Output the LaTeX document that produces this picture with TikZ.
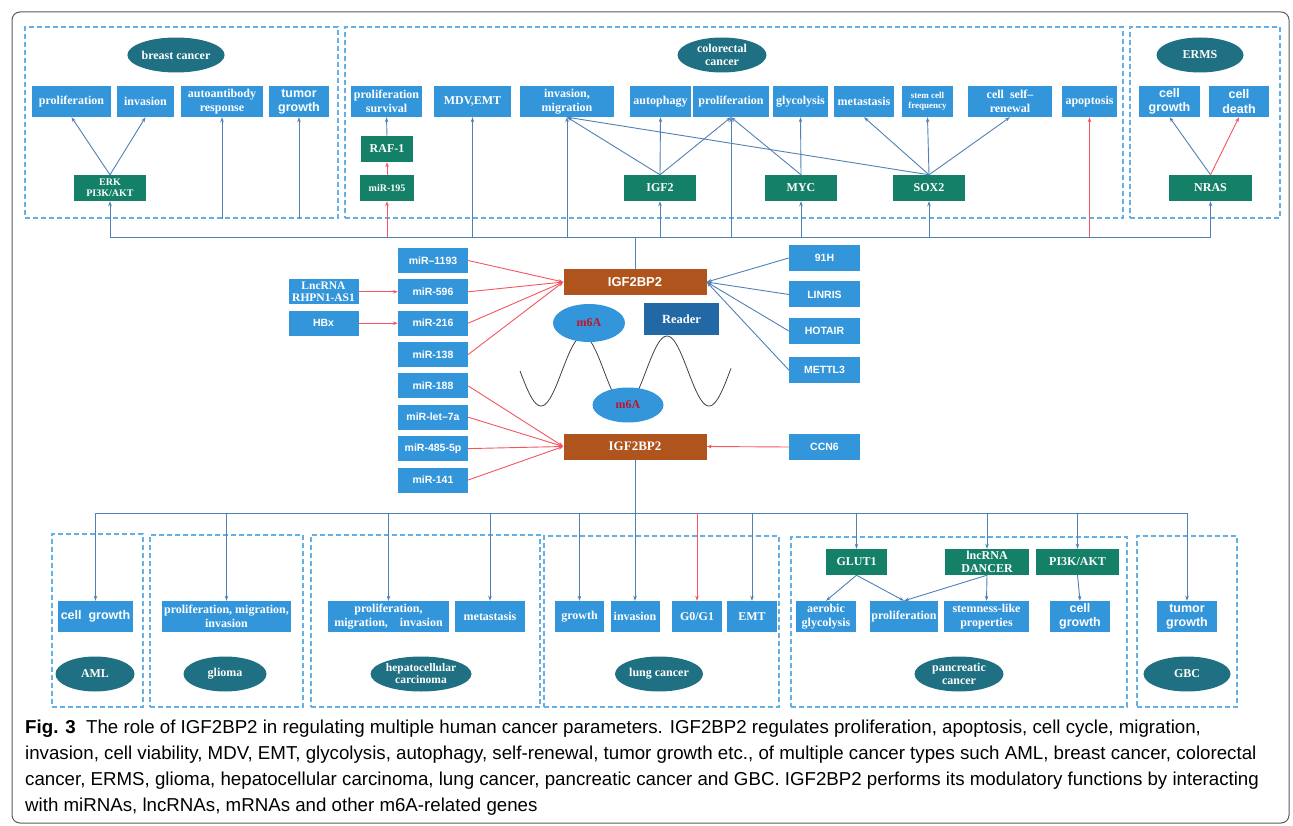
\documentclass[tikz,border=0pt]{standalone}
\usepackage{fontspec}
\setmainfont{Liberation Serif}
\setsansfont{Liberation Sans}
\usetikzlibrary{shapes.geometric,arrows.meta}

\definecolor{effblue}{RGB}{52,150,218}
\definecolor{genegreen}{RGB}{20,128,104}
\definecolor{cancerteal}{RGB}{30,112,130}
\definecolor{bpbrown}{RGB}{176,84,30}
\definecolor{readerblue}{RGB}{34,104,165}
\definecolor{dashblue}{RGB}{100,175,228}
\definecolor{linkblue}{RGB}{80,128,180}
\definecolor{linkred}{RGB}{245,85,95}
\definecolor{m6ared}{RGB}{190,20,45}
\definecolor{framegray}{RGB}{90,90,90}

\tikzset{
  region/.style={draw=dashblue, line width=1.2pt, dash pattern=on 5pt off 3pt, inner sep=0pt},
  cancer/.style={ellipse, fill=cancerteal, text=white, inner sep=0pt, align=center, font=\rmfamily\bfseries\fontsize{12}{13}\selectfont},
  effect/.style={rectangle, fill=effblue, text=white, inner sep=0.5pt, minimum height=31, align=center, font=\rmfamily\bfseries\fontsize{12}{14}\selectfont},
  sanslab/.style={font=\sffamily\bfseries\fontsize{12.5}{14.5}\selectfont},
  gene/.style={rectangle, fill=genegreen, text=white, inner sep=0.5pt, minimum height=26, align=center, font=\rmfamily\bfseries\fontsize{12}{12.5}\selectfont},
  mirna/.style={rectangle, fill=effblue, text=white, inner sep=0.5pt, minimum width=70, minimum height=25, align=center, font=\sffamily\bfseries\fontsize{10.5}{12}\selectfont},
  bp2/.style={rectangle, fill=bpbrown, text=white, minimum width=143, minimum height=26, font=\bfseries\fontsize{13}{14}\selectfont},
  m6a/.style={ellipse, fill=effblue, text=m6ared, inner sep=0pt, minimum width=72, minimum height=37, font=\rmfamily\bfseries\fontsize{12}{13}\selectfont},
  link/.style={draw=linkblue, line width=0.9pt},
  redlink/.style={draw=linkred, line width=0.9pt},
}

\begin{document}
\begin{tikzpicture}[x=1pt,y=-1pt,>={Stealth[length=5pt,width=3.5pt]}]
\useasboundingbox (0,0) rectangle (1293,826);
\draw[framegray, line width=1pt, rounded corners=8pt] (12,12) rectangle (1289,823);

% cancer regions
\node[region, minimum width=313, minimum height=191] (breastreg) at (181.5,122.5) {};
\node[region, minimum width=778, minimum height=191] (colonreg) at (734,122.5) {};
\node[region, minimum width=150, minimum height=191] (ermsreg) at (1205,122.5) {};
\node[region, minimum width=91, minimum height=173] (amlreg) at (97.5,620.5) {};
\node[region, minimum width=153, minimum height=172] (glioreg) at (226.5,621) {};
\node[region, minimum width=229, minimum height=172] (hepreg) at (425.5,621) {};
\node[region, minimum width=235, minimum height=171] (lungreg) at (661.5,621.5) {};
\node[region, minimum width=336, minimum height=170] (pancreg) at (959,622) {};
\node[region, minimum width=100, minimum height=171] (gbcreg) at (1187,621.5) {};

% breast cancer
\node[cancer, minimum width=88, minimum height=35] (breast) at (176,55) {breast cancer};
\node[effect, minimum width=79] (bprol) at (71.5,101.5) {proliferation};
\node[effect, minimum width=57] (binv) at (145.5,101.5) {invasion};
\node[effect, minimum width=82] (bauto) at (222,101.5) {autoantibody\\response};
\node[effect, sanslab, minimum width=60] (btumor) at (299,101.5) {tumor\\growth};
\node[gene, minimum width=72, font=\rmfamily\bfseries\fontsize{10}{11}\selectfont] (erk) at (110,188) {ERK\\PI3K/AKT};

% colorectal cancer
\node[cancer, minimum width=89, minimum height=35] (colon) at (722,55) {colorectal\\cancer};
\node[effect, minimum width=71] (cprolsurv) at (386.5,101.5) {proliferation\\survival};
\node[effect, minimum width=77] (cmdv) at (472.5,101.5) {MDV,EMT};
\node[effect, minimum width=94] (cinv) at (567,101.5) {invasion,\\migration};
\node[effect, minimum width=61] (cauto) at (660.5,101.5) {autophagy};
\node[effect, minimum width=76] (cprol) at (731,101.5) {proliferation};
\node[effect, minimum width=55] (cglyc) at (800.5,101.5) {glycolysis};
\node[effect, minimum width=60] (cmeta) at (864,101.5) {metastasis};
\node[effect, minimum width=51, font=\rmfamily\bfseries\fontsize{9}{10.5}\selectfont] (cstem) at (927.5,101.5) {stem cell\\frequency};
\node[effect, minimum width=84] (cself) at (1010,101.5) {cell\ \ self--\\renewal};
\node[effect, minimum width=55] (capop) at (1089.5,101.5) {apoptosis};
\node[gene, minimum width=52] (raf) at (387,149) {RAF-1};
\node[gene, minimum width=54, font=\rmfamily\bfseries\fontsize{10}{11}\selectfont] (mir195) at (387,188) {miR-195};
\node[gene, minimum width=72] (igf2) at (660,188) {IGF2};
\node[gene, minimum width=72] (myc) at (801,188) {MYC};
\node[gene, minimum width=72] (sox2) at (929,188) {SOX2};

% ERMS
\node[cancer, minimum width=87, minimum height=35] (erms) at (1200,55) {ERMS};
\node[effect, sanslab, minimum width=61] (egrow) at (1169.5,101.5) {cell\\growth};
\node[effect, sanslab, minimum width=60] (edeath) at (1239,101.5) {cell\\death};
\node[gene, minimum width=83] (nras) at (1210.5,188) {NRAS};

% centre
\node[mirna] (mir1193) at (433,260.5) {miR--1193};
\node[mirna] (mir596) at (433,291.8) {miR-596};
\node[mirna] (mir216) at (433,323.2) {miR-216};
\node[mirna] (mir138) at (433,354.5) {miR-138};
\node[mirna] (mir188) at (433,385.9) {miR-188};
\node[mirna] (mirlet) at (433,417.2) {miR-let--7a};
\node[mirna] (mir485) at (433,448.6) {miR-485-5p};
\node[mirna] (mir141) at (433,480) {miR-141};
\node[mirna, font=\rmfamily\bfseries\fontsize{11.5}{11.5}\selectfont] (lnc) at (323.5,291.8) {LncRNA\\RHPN1-AS1};
\node[mirna] (hbx) at (323.5,323.2) {HBx};
\node[bp2, font=\sffamily\bfseries\fontsize{13}{14}\selectfont] (igfA) at (635,282) {IGF2BP2};
\node[bp2, font=\rmfamily\bfseries\fontsize{13}{14}\selectfont] (igfB) at (635,446.5) {IGF2BP2};
\node[mirna, minimum width=71, minimum height=26] (h91) at (824.5,258) {91H};
\node[mirna, minimum width=71, minimum height=26] (linris) at (824.5,294.5) {LINRIS};
\node[mirna, minimum width=71, minimum height=26] (hotair) at (824.5,331) {HOTAIR};
\node[mirna, minimum width=71, minimum height=26] (mettl3) at (824.5,370) {METTL3};
\node[mirna, minimum width=71, minimum height=26] (ccn6) at (824.5,447) {CCN6};

\draw[black!75, line width=0.8pt, domain=520:731, samples=120, smooth] plot (\x, {371+35*sin(4.2857*(\x-520))});
\node[m6a, minimum height=38] (m6aup) at (589,323) {m6A};
\node[m6a, minimum width=71, minimum height=35] (m6alow) at (628,405) {m6A};
\node[fill=readerblue, text=white, minimum width=75, minimum height=32, font=\rmfamily\bfseries\fontsize{12.5}{13}\selectfont] (reader) at (681.5,319) {Reader};

% bottom row
\node[effect, sanslab, minimum width=75] (amlgrow) at (95.5,616.5) {cell\ \ growth};
\node[cancer, minimum width=79, minimum height=35] (aml) at (95,674) {AML};
\node[effect, minimum width=129] (gliobox) at (226.5,616.5) {proliferation, migration,\\invasion};
\node[cancer, minimum width=83, minimum height=35] (glioma) at (225,674) {glioma};
\node[effect, minimum width=121] (hepbox) at (388.5,616.5) {proliferation,\\migration,\quad invasion};
\node[effect, minimum width=70] (hepmeta) at (490,616.5) {metastasis};
\node[cancer, minimum width=101, minimum height=35, font=\rmfamily\bfseries\fontsize{11.5}{12}\selectfont] (hep) at (421,674) {hepatocellular\\carcinoma};
\node[effect, minimum width=49] (lgrow) at (579.5,616.5) {growth};
\node[effect, minimum width=49] (linv) at (635,616.5) {invasion};
\node[effect, minimum width=50] (lg0) at (697,616.5) {G0/G1};
\node[effect, minimum width=50] (lemt) at (752,616.5) {EMT};
\node[cancer, minimum width=88, minimum height=35] (lung) at (659,674) {lung cancer};
\node[gene, minimum width=61] (glut) at (856.5,562) {GLUT1};
\node[gene, minimum width=84] (dancer) at (987,562) {lncRNA\\DANCER};
\node[gene, minimum width=83] (pi3k) at (1077.5,562) {PI3K/AKT};
\node[effect, minimum width=60] (aerob) at (826,616.5) {aerobic\\glycolysis};
\node[effect, minimum width=68] (pprol) at (904,616.5) {proliferation};
\node[effect, minimum width=85] (stemness) at (986.5,616.5) {stemness-like\\properties};
\node[effect, sanslab, minimum width=60] (pgrow) at (1080,616.5) {cell\\growth};
\node[cancer, minimum width=89, minimum height=35] (panc) at (959,674) {pancreatic\\cancer};
\node[effect, sanslab, minimum width=60] (gtumor) at (1187,616.5) {tumor\\growth};
\node[cancer, minimum width=87, minimum height=35] (gbc) at (1187,674) {GBC};

\coordinate (busT) at (635,237);
\coordinate (busB) at (635,513);

% upper links
\draw[link] (igfA.north) -- (busT);
\draw[link] (erk.south |- busT) -- (nras.south |- busT);
\draw[link,->] (erk.south |- busT) -- (erk.south);
\draw[link,->] (erk.north) -- (bprol.south);
\draw[link,->] (erk.north) -- (binv.south);
\draw[link,->] (bauto.south |- breastreg.south) -- (bauto.south);
\draw[link,->] (btumor.south |- breastreg.south) -- (btumor.south);
\draw[redlink,->] (mir195.south |- busT) -- (mir195.south);
\draw[redlink,->] (mir195.north) -- (raf.south);
\draw[link,->] (raf.north) -- (cprolsurv.south);
\draw[link,->] (cmdv.south |- busT) -- (cmdv.south);
\draw[link,->] (cinv.south |- busT) -- (cinv.south);
\draw[link,->] (igf2.south |- busT) -- (igf2.south);
\draw[link,->] (cprol.south |- busT) -- (cprol.south);
\draw[link,->] (myc.south |- busT) -- (myc.south);
\draw[link,->] (sox2.south |- busT) -- (sox2.south);
\draw[redlink,->] (capop.south |- busT) -- (capop.south);
\draw[link,->] (nras.south |- busT) -- (nras.south);
\draw[link,->] (igf2.north) -- (cinv.south);
\draw[link,->] (igf2.north) -- (cauto.south);
\draw[link,->] (igf2.north) -- (cprol.south);
\draw[link,->] (myc.north) -- (cprol.south);
\draw[link,->] (myc.north) -- (cglyc.south);
\draw[link,->] (sox2.north) -- (cinv.south);
\draw[link,->] (sox2.north) -- (cmeta.south);
\draw[link,->] (sox2.north) -- (cstem.south);
\draw[link,->] (sox2.north) -- (cself.south);
\draw[link,->] (nras.north) -- (egrow.south);
\draw[redlink,->] (nras.north) -- (edeath.south);

% centre links
\draw[redlink,->] (mir1193.east) -- (igfA.west);
\draw[redlink,->] (mir596.east) -- (igfA.west);
\draw[redlink,->] (mir216.east) -- (igfA.west);
\draw[redlink,->] (mir138.east) -- (igfA.west);
\draw[redlink,->] (lnc.east) -- (mir596.west);
\draw[redlink,->] (hbx.east) -- (mir216.west);
\draw[redlink,->] (mir188.east) -- (igfB.west);
\draw[redlink,->] (mirlet.east) -- (igfB.west);
\draw[redlink,->] (mir485.east) -- (igfB.west);
\draw[redlink,->] (mir141.east) -- (igfB.west);
\draw[link,->] (h91.west) -- (igfA.east);
\draw[link,->] (linris.west) -- (igfA.east);
\draw[link,->] (hotair.west) -- (igfA.east);
\draw[link,->] (mettl3.west) -- (igfA.east);
\draw[redlink,->] (ccn6.west) -- (igfB.east);

% lower links
\draw[link] (igfB.south) -- (busB);
\draw[link] (amlgrow.north |- busB) -- (gtumor.north |- busB);
\draw[link,->] (amlgrow.north |- busB) -- (amlgrow.north);
\draw[link,->] (gliobox.north |- busB) -- (gliobox.north);
\draw[link,->] (hepbox.north |- busB) -- (hepbox.north);
\draw[link,->] (hepmeta.north |- busB) -- (hepmeta.north);
\draw[link,->] (lgrow.north |- busB) -- (lgrow.north);
\draw[link,->] (busB) -- (linv.north);
\draw[redlink,->] (lg0.north |- busB) -- (lg0.north);
\draw[link,->] (lemt.north |- busB) -- (lemt.north);
\draw[link,->] (glut.north |- busB) -- (glut.north);
\draw[link,->] (dancer.north |- busB) -- (dancer.north);
\draw[link,->] (pi3k.north |- busB) -- (pi3k.north);
\draw[link,->] (gtumor.north |- busB) -- (gtumor.north);
\draw[link,->] (glut.south) -- (aerob.north);
\draw[link,->] (glut.south) -- (pprol.north);
\draw[link,->] (dancer.south) -- (pprol.north);
\draw[link,->] (dancer.south) -- (stemness.north);
\draw[link,->] (pi3k.south) -- (pgrow.north);

\node[anchor=north west, align=left, inner sep=0pt, font=\sffamily\fontsize{18.7}{25.8}\selectfont] (caption) at (25,720)
  {\textbf{Fig. 3}\ \ The role of IGF2BP2 in regulating multiple human cancer parameters. IGF2BP2 regulates proliferation, apoptosis, cell cycle, migration,\\
   invasion, cell viability, MDV, EMT, glycolysis, autophagy, self-renewal, tumor growth etc., of multiple cancer types such AML, breast cancer, colorectal\\
   cancer, ERMS, glioma, hepatocellular carcinoma, lung cancer, pancreatic cancer and GBC. IGF2BP2 performs its modulatory functions by interacting\\
   with miRNAs, lncRNAs, mRNAs and other m6A-related genes};
\end{tikzpicture}
\end{document}
